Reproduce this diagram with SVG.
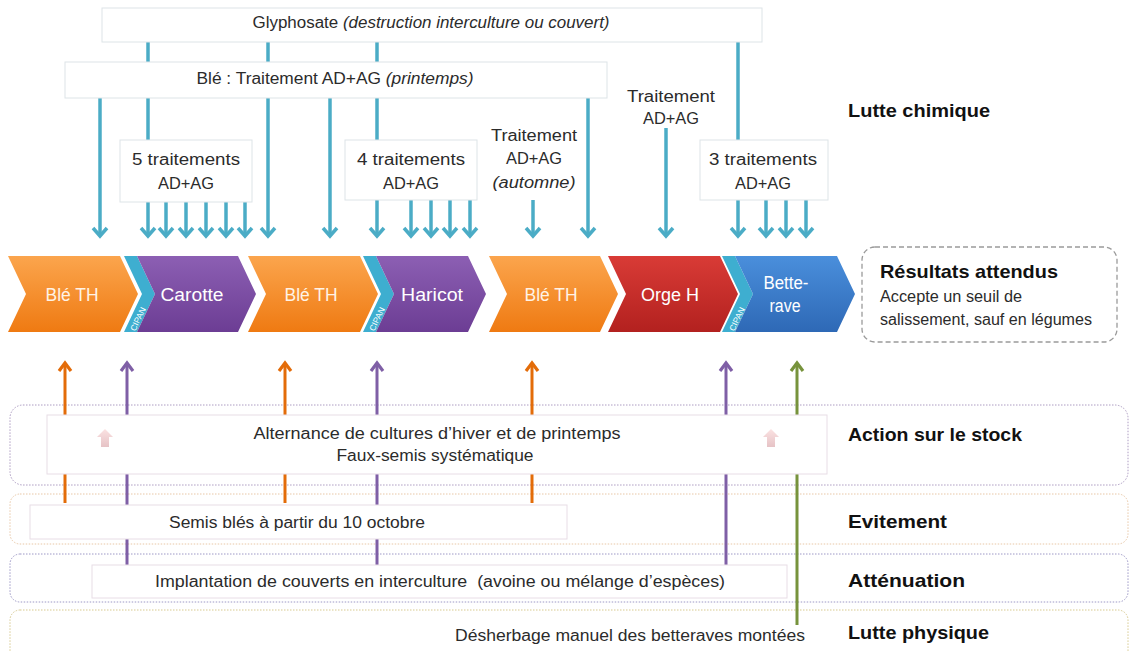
<svg xmlns="http://www.w3.org/2000/svg" width="1131" height="651" viewBox="0 0 1131 651">
<style>
text{font-family:"Liberation Sans",Arial,sans-serif;fill:#2b2b2b}
.t{font-size:16px}
.c{text-anchor:middle}
.b{font-weight:bold;font-size:19px;fill:#111}
.ch{font-size:17.5px;fill:#fff;text-anchor:middle}
.chO{fill:#fff3e6}
.cip{font-size:8.5px;fill:#fff;text-anchor:middle}
.box{fill:#fff;stroke:#dde4e7;stroke-width:1}
.blue{stroke:#4bacc6;stroke-width:3.5;fill:none;marker-end:url(#mb)}
.bl{stroke:#4bacc6;stroke-width:3.5;fill:none}
.or{stroke:#e36c09;stroke-width:3;fill:none;marker-end:url(#mo)}
.pu{stroke:#7f5fa6;stroke-width:3;fill:none;marker-end:url(#mp)}
.gr{stroke:#77933c;stroke-width:3;fill:none;marker-end:url(#mg)}
.band{fill:#fff;stroke-width:1;stroke-dasharray:1.5 1.5}
.inner{fill:#fff;stroke:#e8dde6;stroke-width:1}
</style>
<defs>
<marker id="mb" markerUnits="userSpaceOnUse" markerWidth="20" markerHeight="20" viewBox="-10 -10 20 20" refX="0" refY="0" orient="auto" overflow="visible"><path d="M-8,-7 L0,0 L-8,7" fill="none" stroke="#4bacc6" stroke-width="3.5"/></marker>
<marker id="mo" markerUnits="userSpaceOnUse" markerWidth="20" markerHeight="20" viewBox="-10 -10 20 20" refX="0" refY="0" orient="auto" overflow="visible"><path d="M-8,-6 L0,0 L-8,6" fill="none" stroke="#e36c09" stroke-width="3.2"/></marker>
<marker id="mp" markerUnits="userSpaceOnUse" markerWidth="20" markerHeight="20" viewBox="-10 -10 20 20" refX="0" refY="0" orient="auto" overflow="visible"><path d="M-8,-6 L0,0 L-8,6" fill="none" stroke="#7f5fa6" stroke-width="3.2"/></marker>
<marker id="mg" markerUnits="userSpaceOnUse" markerWidth="20" markerHeight="20" viewBox="-10 -10 20 20" refX="0" refY="0" orient="auto" overflow="visible"><path d="M-8,-6 L0,0 L-8,6" fill="none" stroke="#77933c" stroke-width="3.2"/></marker>
<linearGradient id="gO" x1="0" y1="0" x2="0" y2="1"><stop offset="0" stop-color="#fba54d"/><stop offset="1" stop-color="#ef7a12"/></linearGradient>
<linearGradient id="gP" x1="0" y1="0" x2="0" y2="1"><stop offset="0" stop-color="#8c5fb3"/><stop offset="1" stop-color="#6c3d94"/></linearGradient>
<linearGradient id="gR" x1="0" y1="0" x2="0" y2="1"><stop offset="0" stop-color="#d93b36"/><stop offset="1" stop-color="#b3211f"/></linearGradient>
<linearGradient id="gB" x1="0" y1="0" x2="0" y2="1"><stop offset="0" stop-color="#4a8fdc"/><stop offset="1" stop-color="#2e69b6"/></linearGradient>
<linearGradient id="gK" x1="0" y1="0" x2="0" y2="1"><stop offset="0" stop-color="#fbe2e2"/><stop offset="1" stop-color="#e6c3c6"/></linearGradient>
<path id="pink" d="M0,-9 L8,-1 L4,-1 L4,9 L-4,9 L-4,-1 L-8,-1 Z" fill="url(#gK)"/>
</defs>
<rect width="1131" height="651" fill="#fff"/>

<!-- bands -->
<g id="bands">
<rect id="band-stock" class="band" x="10" y="405" width="1118" height="80" rx="13" stroke="#ad9cc2"/>
<rect id="band-evit" class="band" x="10" y="494" width="1118" height="50" rx="10" stroke="#e8c7a6"/>
<rect id="band-att" class="band" x="10" y="554" width="1118" height="48" rx="10" stroke="#9d98c6"/>
<rect id="band-phys" class="band" x="10" y="610" width="1118" height="60" rx="10" stroke="#d7c98f"/>
</g>

<!-- connectors -->
<g id="connectors">
<path class="bl" d="M148,42 V140"/>
<path class="blue" d="M268,42 V236"/>
<path class="bl" d="M377,42 V140"/>
<path class="bl" d="M738,42 V140"/>
<path class="blue" d="M100,98 V236"/>
<path class="blue" d="M330,98 V236"/>
<path class="blue" d="M588,98 V236"/>
<path class="blue" d="M666,128 V236"/>
<path class="blue" d="M533,200 V236"/>
<path class="blue" d="M148,202 V236"/>
<path class="blue" d="M166,202 V236"/>
<path class="blue" d="M186,202 V236"/>
<path class="blue" d="M206,202 V236"/>
<path class="blue" d="M226,202 V236"/>
<path class="blue" d="M245,202 V236"/>
<path class="blue" d="M377,200 V236"/>
<path class="blue" d="M411,200 V236"/>
<path class="blue" d="M431,200 V236"/>
<path class="blue" d="M450,200 V236"/>
<path class="blue" d="M470,200 V236"/>
<path class="blue" d="M738,200 V236"/>
<path class="blue" d="M766,200 V236"/>
<path class="blue" d="M786,200 V236"/>
<path class="blue" d="M806,200 V236"/>
<path class="or" d="M65,503 V363"/>
<path class="pu" d="M127,565 V363"/>
<path class="or" d="M285,503 V363"/>
<path class="pu" d="M377,565 V363"/>
<path class="or" d="M532,503 V363"/>
<path class="pu" d="M726,565 V363"/>
<path class="gr" d="M797,625 V363"/>
</g>

<!-- top chemical nodes -->
<g id="glyphosate">
<rect class="box" x="102" y="8" width="660" height="34"/>
<text class="t c" x="431" y="28" textLength="357" lengthAdjust="spacingAndGlyphs">Glyphosate <tspan font-style="italic">(destruction interculture ou couvert)</tspan></text>
</g>
<g id="ble-printemps">
<rect class="box" x="65" y="62" width="542" height="36"/>
<text class="t c" x="335" y="84" textLength="277" lengthAdjust="spacingAndGlyphs">Blé : Traitement AD+AG <tspan font-style="italic">(printemps)</tspan></text>
</g>
<g id="t5">
<rect class="box" x="120" y="140" width="132" height="62"/>
<text class="t c" x="186" y="165" textLength="108" lengthAdjust="spacingAndGlyphs">5 traitements</text>
<text class="t c" x="186" y="189" textLength="56" lengthAdjust="spacingAndGlyphs">AD+AG</text>
</g>
<g id="t4">
<rect class="box" x="345" y="140" width="132" height="60"/>
<text class="t c" x="411" y="165" textLength="108" lengthAdjust="spacingAndGlyphs">4 traitements</text>
<text class="t c" x="411" y="189" textLength="56" lengthAdjust="spacingAndGlyphs">AD+AG</text>
</g>
<g id="t3">
<rect class="box" x="700" y="140" width="128" height="60"/>
<text class="t c" x="763" y="165" textLength="108" lengthAdjust="spacingAndGlyphs">3 traitements</text>
<text class="t c" x="763" y="189" textLength="56" lengthAdjust="spacingAndGlyphs">AD+AG</text>
</g>
<g id="t-automne">
<text class="t c" x="534" y="141" textLength="86" lengthAdjust="spacingAndGlyphs">Traitement</text>
<text class="t c" x="534" y="164" textLength="56" lengthAdjust="spacingAndGlyphs">AD+AG</text>
<text class="t c" x="534" y="188" font-style="italic" textLength="83" lengthAdjust="spacingAndGlyphs">(automne)</text>
</g>
<g id="t-orge">
<text class="t c" x="671" y="102" textLength="88" lengthAdjust="spacingAndGlyphs">Traitement</text>
<text class="t c" x="671" y="124" textLength="56" lengthAdjust="spacingAndGlyphs">AD+AG</text>
</g>
<g id="lbl-chimique"><text class="b" x="848" y="117" textLength="142" lengthAdjust="spacingAndGlyphs">Lutte chimique</text></g>

<!-- rotation chevrons -->
<g id="c1">
<path d="M8,256 H120 L138,294 L120,332 H8 L26,294 Z" fill="url(#gO)"/>
<text class="ch chO" x="72" y="301" textLength="53" lengthAdjust="spacingAndGlyphs">Blé TH</text>
</g>
<g id="c2">
<path d="M124,256 H137 L155,294 L137,332 H124 L142,294 Z" fill="#3eaed0"/>
<path d="M137,256 H238 L256,294 L238,332 H137 L155,294 Z" fill="url(#gP)"/>
<text class="cip" transform="translate(138,319) rotate(-64)" y="3">CIPAN</text>
<text class="ch" x="192" y="301" textLength="63" lengthAdjust="spacingAndGlyphs">Carotte</text>
</g>
<g id="c3">
<path d="M248,256 H360 L378,294 L360,332 H248 L266,294 Z" fill="url(#gO)"/>
<text class="ch chO" x="311" y="301" textLength="53" lengthAdjust="spacingAndGlyphs">Blé TH</text>
</g>
<g id="c4">
<path d="M363,256 H376 L394,294 L376,332 H363 L381,294 Z" fill="#3eaed0"/>
<path d="M376,256 H468 L486,294 L468,332 H376 L394,294 Z" fill="url(#gP)"/>
<text class="cip" transform="translate(377,319) rotate(-64)" y="3">CIPAN</text>
<text class="ch" x="432" y="301" textLength="62" lengthAdjust="spacingAndGlyphs">Haricot</text>
</g>
<g id="c5">
<path d="M489,256 H600 L618,294 L600,332 H489 L507,294 Z" fill="url(#gO)"/>
<text class="ch chO" x="551" y="301" textLength="53" lengthAdjust="spacingAndGlyphs">Blé TH</text>
</g>
<g id="c6">
<path d="M608,256 H720 L738,294 L720,332 H608 L626,294 Z" fill="url(#gR)"/>
<text class="ch" x="670" y="301" textLength="58" lengthAdjust="spacingAndGlyphs">Orge H</text>
</g>
<g id="c7">
<path d="M722,256 H735 L753,294 L735,332 H722 L740,294 Z" fill="#3eaed0"/>
<path d="M735,256 H837 L855,294 L837,332 H735 L753,294 Z" fill="url(#gB)"/>
<text class="cip" transform="translate(737,319) rotate(-64)" y="3">CIPAN</text>
<text class="ch" x="786" y="289" textLength="45" lengthAdjust="spacingAndGlyphs">Bette-</text>
<text class="ch" x="785" y="312" textLength="31" lengthAdjust="spacingAndGlyphs">rave</text>
</g>
<g id="resultats">
<rect x="862" y="247" width="255" height="95" rx="13" fill="#fff" stroke="#9a9a9a" stroke-width="1.3" stroke-dasharray="5 3"/>
<text class="b" x="880" y="278" textLength="178" lengthAdjust="spacingAndGlyphs">Résultats attendus</text>
<text class="t" x="880" y="302" textLength="142" lengthAdjust="spacingAndGlyphs">Accepte un seuil de</text>
<text class="t" x="880" y="325" textLength="212" lengthAdjust="spacingAndGlyphs">salissement, sauf en légumes</text>
</g>

<!-- action bands inner -->
<g id="stock">
<rect class="inner" x="47" y="415" width="780" height="59"/>
<use href="#pink" x="105" y="438"/>
<use href="#pink" x="771" y="438"/>
<text class="t c" x="437" y="439" textLength="367" lengthAdjust="spacingAndGlyphs">Alternance de cultures d’hiver et de printemps</text>
<text class="t c" x="435" y="461" textLength="197" lengthAdjust="spacingAndGlyphs">Faux-semis systématique</text>
<text class="b" x="848" y="441" textLength="174" lengthAdjust="spacingAndGlyphs">Action sur le stock</text>
</g>
<g id="evitement">
<rect class="inner" x="30" y="505" width="537" height="34" stroke="#f0e6dc"/>
<text class="t c" x="297" y="528" textLength="256" lengthAdjust="spacingAndGlyphs">Semis blés à partir du 10 octobre</text>
<text class="b" x="848" y="528" textLength="99" lengthAdjust="spacingAndGlyphs">Evitement</text>
</g>
<g id="attenuation">
<rect class="inner" x="92" y="565" width="695" height="33" stroke="#e4e2ef"/>
<text class="t c" x="440" y="587" textLength="570" lengthAdjust="spacingAndGlyphs">Implantation de couverts en interculture &#160;(avoine ou mélange d’espèces)</text>
<text class="b" x="848" y="587" textLength="117" lengthAdjust="spacingAndGlyphs">Atténuation</text>
</g>
<g id="physique">
<text class="t c" x="630" y="641" textLength="350" lengthAdjust="spacingAndGlyphs">Désherbage manuel des betteraves montées</text>
<text class="b" x="848" y="639" textLength="141" lengthAdjust="spacingAndGlyphs">Lutte physique</text>
</g>
</svg>
